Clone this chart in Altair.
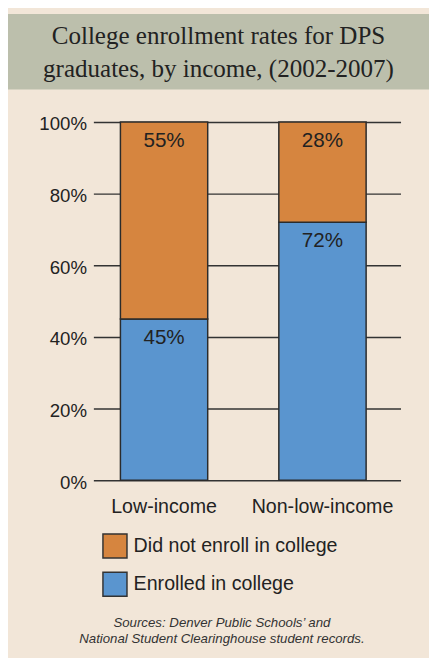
import altair as alt
import pandas as pd

# ---- data ----
GROUPS = ["Low-income", "Non-low-income"]
ENROLLED = [0.45, 0.72]
NOT_ENROLLED = [0.55, 0.28]
SERIES = ["Did not enroll in college", "Enrolled in college"]
COLORS = ["#D6853F", "#5A95CF"]
Y_TICKS = [0, 0.2, 0.4, 0.6, 0.8, 1.0]
TITLE_LINES = ["College enrollment rates for DPS", "graduates, by income, (2002-2007)"]
SOURCE_LINES = ["Sources: Denver Public Schools\u2019 and",
                "National Student Clearinghouse student records."]

rows = []
for g, e, n in zip(GROUPS, ENROLLED, NOT_ENROLLED):
    rows.append({"group": g, "status": SERIES[1], "value": e, "ord": 0})
    rows.append({"group": g, "status": SERIES[0], "value": n, "ord": 1})
df = pd.DataFrame(rows)

SANS = "Liberation Sans"
SERIF = "Liberation Serif"
BG = "#F2E6D8"
BAND = "#BCBFAC"
INK = "#222222"

W, H = 313, 365
PAD = {"left": 87, "top": 110, "right": 29, "bottom": 175}

one = pd.DataFrame({"k": [0]})

band = alt.Chart(one).mark_rect(color=BAND).encode(
    x=alt.value(-PAD["left"]), x2=alt.value(W + PAD["right"]),
    y=alt.value(-PAD["top"]), y2=alt.value(-33),
)

title = alt.Chart(one).mark_text(
    font=SERIF, fontSize=25.5, color=INK, align="center", baseline="alphabetic",
    lineHeight=34,
).encode(
    x=alt.value((W + PAD["left"] + PAD["right"]) / 2 - PAD["left"]),
    y=alt.value(-80),
    text=alt.value(TITLE_LINES),
)

base = alt.Chart(df).transform_stack(
    stack="value", groupby=["group"], as_=["v0", "v1"],
    sort=[alt.SortField("ord", order="ascending")],
)

xenc = alt.X(
    "group:N", sort=GROUPS,
    scale=alt.Scale(paddingInner=0.449, paddingOuter=0.194, align=0.44),
    axis=alt.Axis(title=None, labelAngle=0, labelFontSize=20, labelPadding=17,
                  ticks=False, tickSize=0, domain=False, grid=False,
                  labelColor=INK, labelFont=SANS, labelLimit=300),
)

bars = base.mark_bar(stroke="#2b2b2b", strokeWidth=1.5).encode(
    x=xenc,
    y=alt.Y("v0:Q", scale=alt.Scale(domain=[0, 1], nice=False),
            axis=alt.Axis(title=None, format=".0%", values=Y_TICKS,
                          labelFontSize=19, labelColor=INK, labelFont=SANS,
                          labelPadding=7, labelOffset=2, ticks=False, tickSize=0,
                          domain=False, grid=True, gridColor="#333333",
                          gridWidth=1.5, gridOpacity=1)),
    y2="v1:Q",
    color=alt.Color(
        "status:N", scale=alt.Scale(domain=SERIES, range=COLORS),
        legend=alt.Legend(title=None, orient="none", legendX=9, legendY=419,
                          direction="vertical", symbolType="square",
                          symbolSize=600, symbolStrokeColor="#333333",
                          symbolStrokeWidth=1.5, symbolOpacity=1,
                          labelFontSize=20, labelColor=INK, labelFont=SANS,
                          labelOffset=6, rowPadding=7, padding=0,
                          labelLimit=400),
    ),
)

labels = base.mark_text(
    baseline="top", dy=8, fontSize=21, color=INK, font=SANS, align="center"
).encode(
    x=alt.X("group:N", sort=GROUPS),
    y=alt.Y("v1:Q"),
    text=alt.Text("value:Q", format=".0%"),
)

source = alt.Chart(one).mark_text(
    font=SANS, fontSize=13.5, fontStyle="italic", color="#333333",
    align="center", baseline="alphabetic", lineHeight=16,
).encode(
    x=alt.value(131), y=alt.value(515), text=alt.value(SOURCE_LINES),
)

chart = alt.layer(band, title, bars, labels, source).properties(
    width=W, height=H,
    autosize=alt.AutoSizeParams(type="none"),
    padding=PAD,
    background=BG,
).configure_view(stroke="transparent")

chart.save("out.html", embed_options={"renderer": "svg", "actions": False})
